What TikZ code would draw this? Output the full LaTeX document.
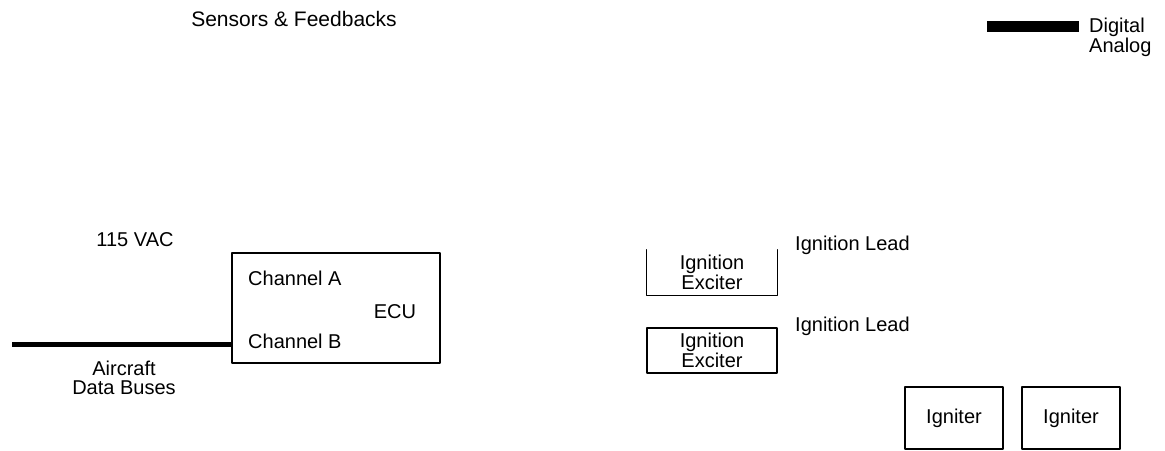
\documentclass[tikz,border=0pt]{standalone}
\usepackage{fontspec}
\setmainfont{Liberation Sans}
\begin{document}
\begin{tikzpicture}[
    x=1pt,
    y=-1pt,
    line cap=round,
    line join=round,
    txt/.style={inner sep=0pt,font=\fontsize{20}{19.5}\selectfont,align=center},
    unit/.style={draw,line width=1.3pt,inner sep=0pt,font=\fontsize{20}{19.5}\selectfont,align=center},
    bus/.style={line width=5pt,line cap=butt}
]
\useasboundingbox (0,0) rectangle (1165,450);

% -------------------------------------------------
% Legend
% -------------------------------------------------

\coordinate (lgd) at (987,26);
\draw[bus,line width=11pt] (lgd) -- ++(92,0);
\node[txt,anchor=west] (digital) at (1089,27) {Digital};
\node[txt,anchor=west] (analog)  at (1089,47) {Analog};

\node[txt,font=\fontsize{21}{22}\selectfont] (sensors) at (294,19) {Sensors \& Feedbacks};

% -------------------------------------------------
% ECU
% -------------------------------------------------

\node[unit,minimum width=208pt,minimum height=110pt] (ecu) at (336,308) {};
\node[txt,anchor=west] (chA) at (248,278) {Channel A};
\node[txt] (ecuname) at (395,312) {ECU};
\node[txt,anchor=west] (chB) at (248,341) {Channel B};

\node[txt] (vac) at (135,240) {115 VAC};

% -------------------------------------------------
% Aircraft data buses
% -------------------------------------------------

\coordinate (bus) at (12,344);
\draw[bus] (bus) -- (bus -| ecu.west);
\node[txt] (acbus) at (124,378) {Aircraft\\Data Buses};

% -------------------------------------------------
% Ignition exciters and leads
% -------------------------------------------------

\node[txt,minimum width=130pt,minimum height=45pt] (exc1) at (712,272.5) {Ignition\\Exciter};
\draw[line width=1.3pt] (exc1.north west) -- (exc1.south west)
    -- (exc1.south east) -- (exc1.north east);
\node[unit,minimum width=130pt,minimum height=45pt] (exc2) at (712,350.5) {Ignition\\Exciter};

\node[txt,anchor=west] (lead1) at (795,245) {Ignition Lead};
\node[txt,anchor=west] (lead2) at (795,326) {Ignition Lead};

% -------------------------------------------------
% Igniters
% -------------------------------------------------

\node[unit,minimum width=98pt,minimum height=62pt] (ign1) at (954,418) {Igniter};
\node[unit,minimum width=98pt,minimum height=62pt] (ign2) at (1071,418) {Igniter};
\end{tikzpicture}
\end{document}
